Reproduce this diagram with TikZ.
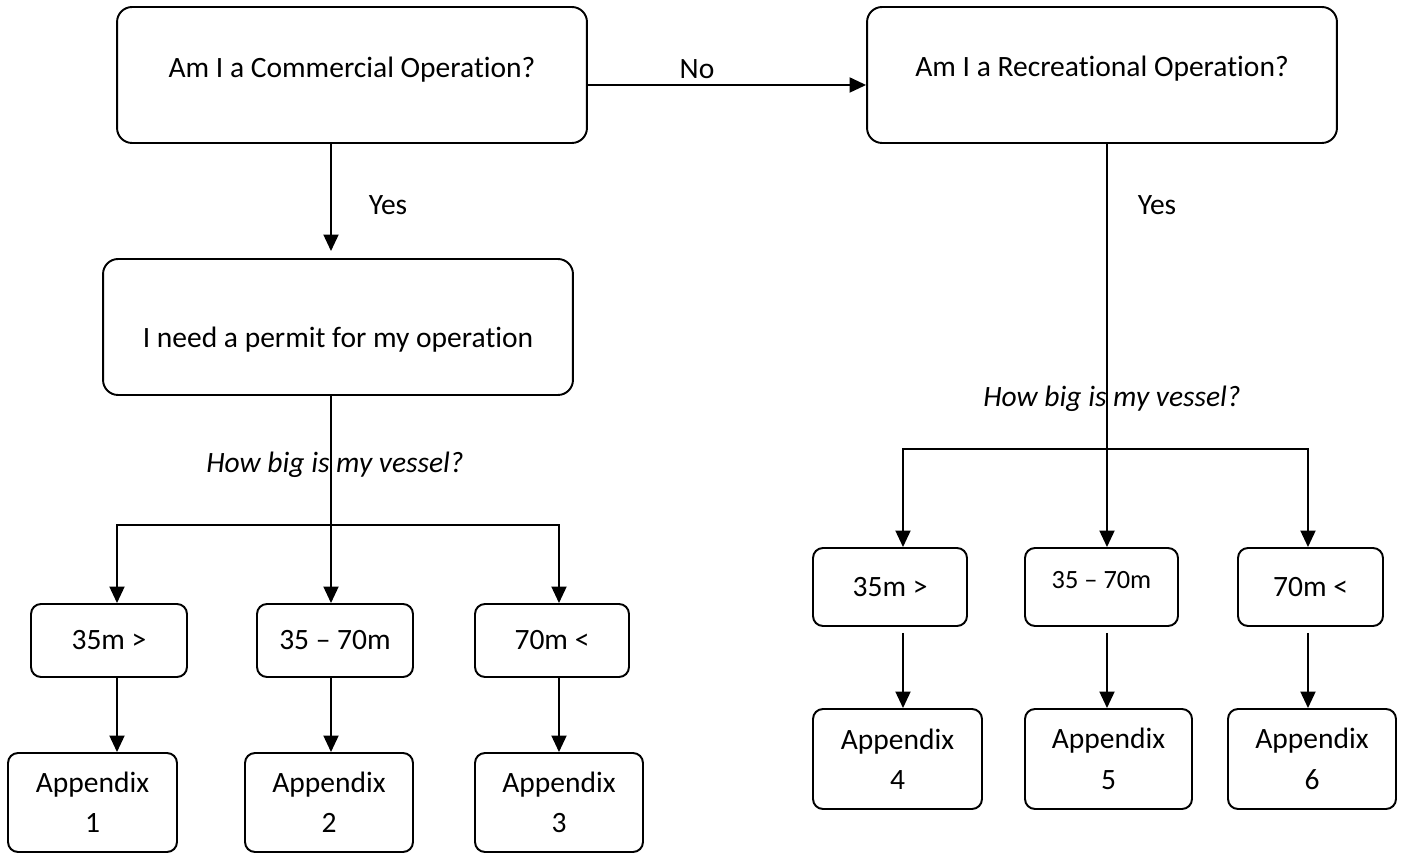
\documentclass[tikz,border=0pt]{standalone}
\usepackage{fontspec}
\setmainfont[Ligatures={TeX,NoCommon}]{Carlito}
\usetikzlibrary{arrows.meta}
\begin{document}
\begin{tikzpicture}[
x=0.02cm,y=-0.02cm,
box/.style={draw,line width=1.1pt,rounded corners=0.3cm,inner sep=0pt,align=center},
small/.style={box,rounded corners=0.2cm},
txt/.style={font=\fontsize{16.8}{23}\selectfont},
arr/.style={line width=1.1pt,-{Triangle[length=0.33cm,width=0.3cm]}},
fork/.style={line width=1.1pt,{Triangle[length=0.33cm,width=0.3cm]}-{Triangle[length=0.33cm,width=0.3cm]}},
]
\useasboundingbox (0,0) rectangle (1404,854);
% questions
\node[box,minimum width=9.4cm,minimum height=2.72cm,
  label={[txt,yshift=0.1cm]center:Am I a Commercial Operation?}] (comm) at (352,75) {};
\node[box,minimum width=9.4cm,minimum height=2.72cm,
  label={[txt,yshift=0.12cm]center:Am I a Recreational Operation?}] (rec) at (1102,75) {};
\node[box,minimum width=9.4cm,minimum height=2.72cm,
  label={[txt,yshift=-0.26cm]center:I need a permit for my operation}] (permit) at (338,327) {};
% commercial sizes
\node[small,txt,minimum width=3.12cm,minimum height=1.46cm] (s1) at (109,640.5) {35m >};
\node[small,txt,minimum width=3.12cm,minimum height=1.46cm] (s2) at (335,640.5) {35 – 70m};
\node[small,txt,minimum width=3.08cm,minimum height=1.46cm] (s3) at (552,640.5) {70m <};
\node[small,txt,minimum width=3.38cm,minimum height=1.98cm] (a1) at (92.5,802.5) {Appendix\\1};
\node[small,txt,minimum width=3.36cm,minimum height=1.98cm] (a2) at (329,802.5) {Appendix\\2};
\node[small,txt,minimum width=3.36cm,minimum height=1.98cm] (a3) at (559,802.5) {Appendix\\3};
% recreational sizes
\node[small,txt,minimum width=3.08cm,minimum height=1.56cm] (s4) at (890,587) {35m >};
\node[small,minimum width=3.06cm,minimum height=1.56cm,
  label={[font=\fontsize{15}{20}\selectfont,yshift=0.14cm]center:35 – 70m}] (s5) at (1101.5,587) {};
\node[small,txt,minimum width=2.9cm,minimum height=1.56cm] (s6) at (1310.5,587) {70m <};
\node[small,txt,minimum width=3.38cm,minimum height=2cm] (a4) at (897.5,759) {Appendix\\4};
\node[small,txt,minimum width=3.34cm,minimum height=2cm] (a5) at (1108.5,759) {Appendix\\5};
\node[small,txt,minimum width=3.36cm,minimum height=2cm] (a6) at (1312,759) {Appendix\\6};
% labels
\node[txt] (no) at (697,69) {No};
\node[txt] (yes1) at (388,205) {Yes};
\node[txt] (yes2) at (1157,205) {Yes};
\node[txt,font=\fontsize{16.8}{23}\selectfont\itshape] (big1) at (335,465) {How big is my vessel?};
\node[txt,font=\fontsize{16.8}{23}\selectfont\itshape] (big2) at (1112,399) {How big is my vessel?};
% branch points
\coordinate (cd) at (331,143);
\coordinate (lbl) at (117,525);
\coordinate (lbm) at (331,525);
\coordinate (lbr) at (559,525);
\coordinate (rbl) at (903,449);
\coordinate (rbm) at (1107,449);
\coordinate (rbr) at (1308,449);
% connectors
\draw[arr] ([yshift=-0.2cm]comm.east) -- ([yshift=-0.2cm]rec.west);
\draw[arr,shorten >=0.14cm] (cd) -- (cd |- permit.north);
\draw[arr] (lbm |- permit.south) -- (lbm |- s2.north);
\draw[fork] (lbl |- s1.north) -- (lbl) -- (lbr) -- (lbr |- s3.north);
\draw[arr] (lbl |- s1.south) -- (lbl |- a1.north);
\draw[arr] (lbm |- s2.south) -- (lbm |- a2.north);
\draw[arr] (lbr |- s3.south) -- (lbr |- a3.north);
\draw[arr] (rbm |- rec.south) -- (rbm |- s5.north);
\draw[fork] (rbl |- s4.north) -- (rbl) -- (rbr) -- (rbr |- s6.north);
\draw[arr,shorten <=0.12cm] (rbl |- s4.south) -- (rbl |- a4.north);
\draw[arr,shorten <=0.12cm] (rbm |- s5.south) -- (rbm |- a5.north);
\draw[arr,shorten <=0.12cm] (rbr |- s6.south) -- (rbr |- a6.north);
\end{tikzpicture}
\end{document}
